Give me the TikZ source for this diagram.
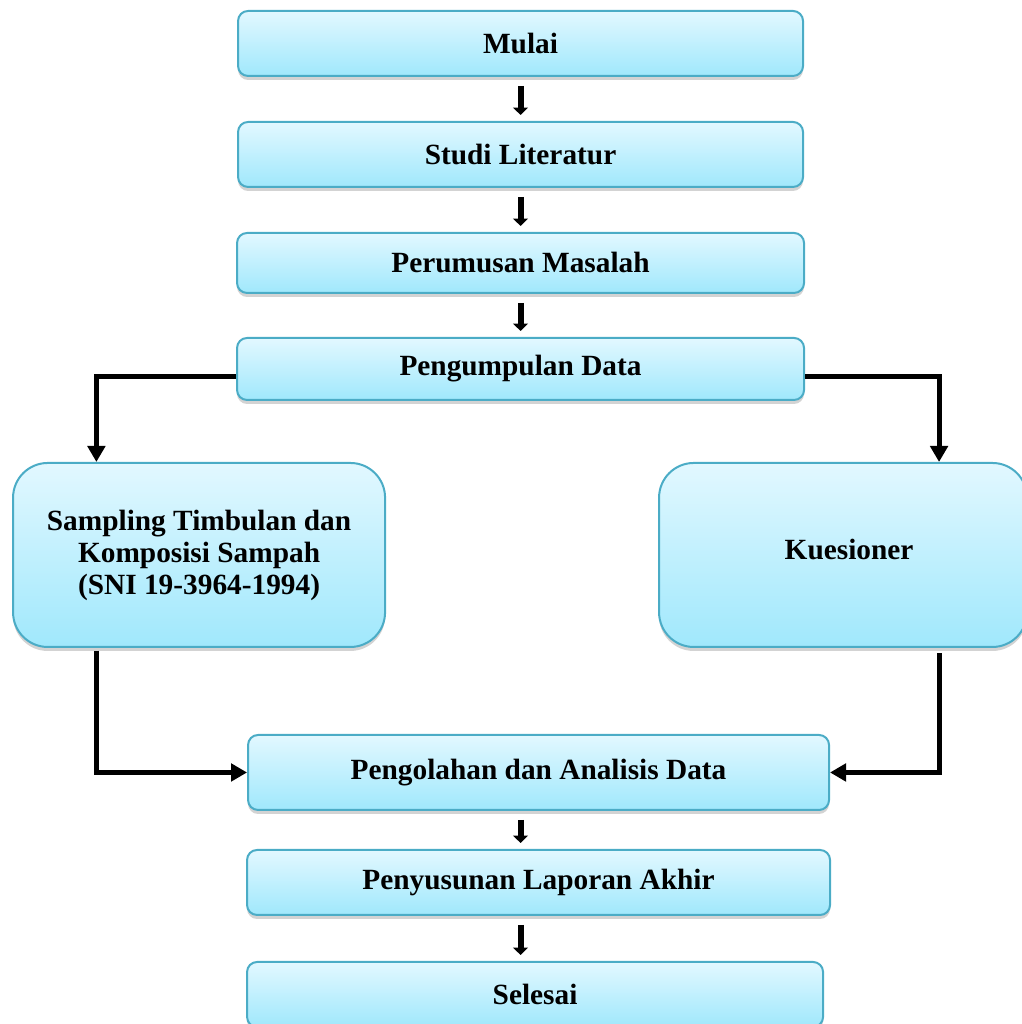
\documentclass[tikz,border=0pt]{standalone}
\usepackage{fontspec}
\setmainfont{Liberation Serif}
\usetikzlibrary{positioning, arrows.meta, shadows}

\definecolor{boxtop}{HTML}{E2F8FF}
\definecolor{boxbottom}{HTML}{A0E8FC}
\definecolor{boxline}{HTML}{4BACC6}

\begin{document}
\begin{tikzpicture}[
    node distance=33pt, % vertical gap between the steps
    stepbox/.style={draw=boxline, line width=1.5pt, rounded corners=7.5pt, top color=boxtop, bottom color=boxbottom,
        drop shadow={shadow xshift=0pt, shadow yshift=-3pt, opacity=0.35},
        font=\bfseries\fontsize{22}{24}\selectfont, align=center, inner sep=0pt,
        minimum width=423.75pt, minimum height=48.75pt},
    bigbox/.style={stepbox, rounded corners=26pt, minimum width=279pt, minimum height=138pt}, % the two branches
    flowarrow/.style={line width=4.5pt, -{Triangle[length=5.5pt, width=11pt]}, shorten <=6.75pt, shorten >=4.5pt},
    elbowarrow/.style={line width=3.75pt, -{Triangle[length=12pt, width=13pt]}}
]

% page size
\useasboundingbox (0,0) rectangle (765.75pt,-768pt);

% Main column
\node (mulai) [stepbox] at (390.4pt,-32.6pt) {Mulai};
\node (studi) [stepbox, below=of mulai] {Studi Literatur};
\node (perumusan) [stepbox, below=of studi, minimum width=425.25pt, minimum height=45pt] {Perumusan Masalah};
\node (pengumpulan) [stepbox, below=32.25pt of perumusan, minimum width=425.25pt, minimum height=46.5pt] {Pengumpulan Data};

% Branches
\node (sampling) [bigbox, below=45.75pt of pengumpulan, xshift=-241.1pt] {Sampling Timbulan dan\\Komposisi Sampah\\(SNI 19-3964-1994)};
\node (kuesioner) [bigbox, right=204pt of sampling, minimum width=276pt] {\raisebox{9pt}{\hspace*{9pt}Kuesioner}};

% Lower column
\node (pengolahan) [stepbox, below=249.75pt of pengumpulan, xshift=13.5pt, minimum width=435.75pt, minimum height=56.25pt] {Pengolahan dan Analisis Data};
\node (penyusunan) [stepbox, below=28.5pt of pengolahan, minimum width=437.25pt] {Penyusunan Laporan Akhir};
\node (selesai) [stepbox, below=33.75pt of penyusunan, xshift=-2.6pt, minimum width=432pt] {Selesai};

% Straight arrows
\draw[flowarrow] (mulai.south) -- (studi.north);
\draw[flowarrow] (studi.south) -- (studi.south |- perumusan.north);
\draw[flowarrow] (perumusan.south) -- (perumusan.south |- pengumpulan.north);
\draw[flowarrow] (pengolahan.south -| mulai.south) -- (penyusunan.north -| mulai.south);
\draw[flowarrow] (penyusunan.south -| mulai.south) -- (selesai.north -| mulai.south);

% Elbow arrows to and from the branches
\draw[elbowarrow] ([yshift=-6pt]pengumpulan.west) -| ([xshift=-77pt]sampling.north);
\draw[elbowarrow] ([yshift=-6pt]pengumpulan.east) -| ([xshift=72pt]kuesioner.north);
\draw[elbowarrow] ([xshift=-77pt, yshift=-2pt]sampling.south) |- (pengolahan.west);
\draw[elbowarrow] ([xshift=72pt, yshift=-4pt]kuesioner.south) |- (pengolahan.east);

\end{tikzpicture}
\end{document}
